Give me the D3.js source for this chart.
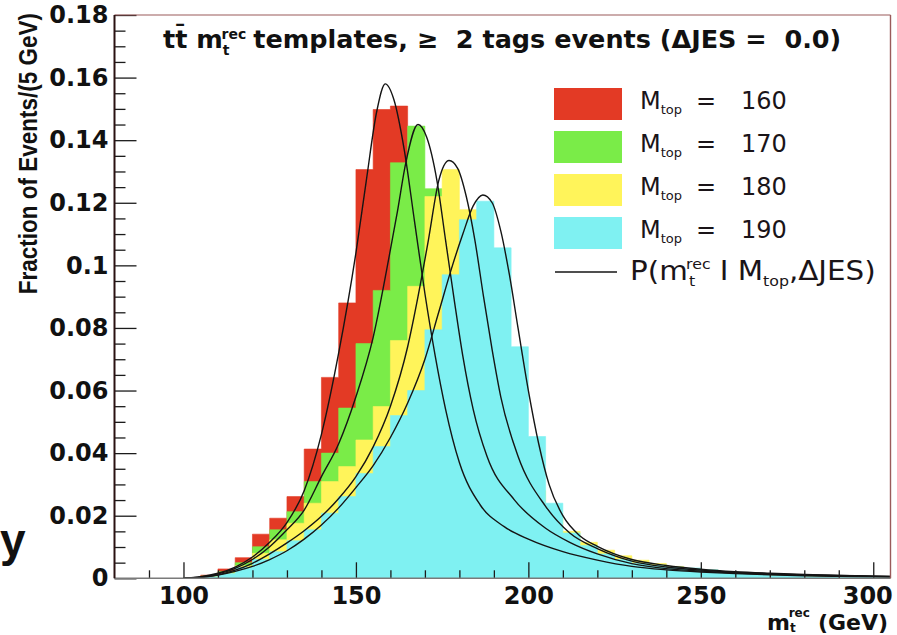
<!DOCTYPE html>
<html>
<head>
<meta charset="utf-8">
<script src="https://cdn.jsdelivr.net/npm/d3@7"></script>
<style>
  html, body { margin: 0; padding: 0; background: #ffffff; }
  svg { display: block; }
</style>
</head>
<body>
<svg id="chart" width="897" height="635"></svg>
<script>
// ---- data -------------------------------------------------------------
// lower edges of the 5 GeV reconstructed-mass bins (GeV)
const binLow = [100, 105, 110, 115, 120, 125, 130, 135, 140, 145,
                150, 155, 160, 165, 170, 175, 180, 185, 190, 195,
                200, 205, 210, 215, 220, 225, 230, 235, 240, 245,
                250, 255, 260, 265, 270, 275, 280, 285, 290, 295, 300];
const binWidth = 5;

// template histograms: fraction of events per bin
const hist160 = [0.0002, 0.0010, 0.0030, 0.0066, 0.0141, 0.0192, 0.0261, 0.0413, 0.0642, 0.0880,
                 0.1306, 0.1498, 0.1509, 0.1180, 0.0820, 0.0520, 0.0330, 0.0240, 0.0180, 0.0140,
                 0.0115, 0.0095, 0.0078, 0.0065, 0.0054, 0.0045, 0.0038, 0.0031, 0.0026, 0.0022,
                 0.0018, 0.0015, 0.0013, 0.0011, 0.0009, 0.0008, 0.0007, 0.0006, 0.0005, 0.0004, 0.0004];
const hist170 = [0.0001, 0.0007, 0.0022, 0.0050, 0.0101, 0.0155, 0.0213, 0.0309, 0.0400, 0.0544,
                 0.0750, 0.0920, 0.1328, 0.1445, 0.1245, 0.0980, 0.0640, 0.0410, 0.0290, 0.0215,
                 0.0170, 0.0140, 0.0110, 0.0090, 0.0072, 0.0058, 0.0047, 0.0038, 0.0031, 0.0026,
                 0.0021, 0.0018, 0.0015, 0.0012, 0.0010, 0.0009, 0.0007, 0.0006, 0.0005, 0.0005, 0.0004];
const hist180 = [0.0001, 0.0005, 0.0018, 0.0040, 0.0080, 0.0123, 0.0176, 0.0240, 0.0309, 0.0357,
                 0.0442, 0.0549, 0.0760, 0.0933, 0.1220, 0.1306, 0.1178, 0.0950, 0.0640, 0.0420,
                 0.0280, 0.0200, 0.0150, 0.0115, 0.0090, 0.0072, 0.0058, 0.0047, 0.0038, 0.0031,
                 0.0026, 0.0021, 0.0017, 0.0014, 0.0012, 0.0010, 0.0008, 0.0007, 0.0006, 0.0005, 0.0005];
const hist190 = [0.0001, 0.0005, 0.0015, 0.0035, 0.0060, 0.0085, 0.0120, 0.0155, 0.0208, 0.0261,
                 0.0335, 0.0421, 0.0520, 0.0600, 0.0794, 0.0970, 0.1146, 0.1205, 0.1056, 0.0740,
                 0.0453, 0.0240, 0.0145, 0.0105, 0.0078, 0.0060, 0.0048, 0.0042, 0.0036, 0.0033,
                 0.0027, 0.0018, 0.0014, 0.0011, 0.0009, 0.0008, 0.0006, 0.0005, 0.0005, 0.0004, 0.0003];

// fitted probability densities P(m | Mtop, dJES): [m (GeV), value]
const fit160 = [[100, 0.0000], [105, 0.0005], [110, 0.0016], [115, 0.0036], [120, 0.0068],
                [125, 0.0115], [130, 0.0178], [135, 0.0280], [140, 0.0460], [145, 0.0720],
                [150, 0.1040], [153, 0.1270], [156, 0.1490], [158.5, 0.1580], [161, 0.1530],
                [164, 0.1370], [167, 0.1140], [170, 0.0910], [173, 0.0710], [176, 0.0540],
                [180, 0.0370], [186, 0.0235], [193, 0.0165], [200, 0.0125], [210, 0.0085],
                [220, 0.0058], [230, 0.0038], [240, 0.0027], [250, 0.0020], [260, 0.0015],
                [270, 0.0011], [280, 0.0008], [290, 0.0006], [300, 0.0005], [305, 0.0004]];
const fit170 = [[100, 0.0000], [105, 0.0004], [110, 0.0014], [115, 0.0032], [120, 0.0060],
                [125, 0.0101], [130, 0.0155], [135, 0.0218], [140, 0.0325], [145, 0.0430],
                [150, 0.0580], [155, 0.0770], [160, 0.1050], [162, 0.1170], [164.5, 0.1330],
                [168, 0.1450], [170.5, 0.1410], [173.5, 0.1270], [176, 0.1080], [178.5, 0.0890],
                [181, 0.0710], [184, 0.0540], [188, 0.0390], [196, 0.0250], [205, 0.0160],
                [212, 0.0115], [220, 0.0078], [230, 0.0047], [240, 0.0031], [250, 0.0023],
                [260, 0.0017], [270, 0.0013], [280, 0.0010], [290, 0.0008], [300, 0.0006], [305, 0.0005]];
const fit180 = [[100, 0.0000], [105, 0.0003], [110, 0.0011], [115, 0.0026], [120, 0.0048],
                [125, 0.0078], [130, 0.0113], [135, 0.0152], [140, 0.0198], [145, 0.0255],
                [150, 0.0325], [155, 0.0420], [160, 0.0550], [165, 0.0740], [168, 0.0900],
                [171, 0.1080], [174, 0.1270], [177, 0.1335], [179.5, 0.1310], [182, 0.1220],
                [184.5, 0.1080], [187, 0.0900], [189.5, 0.0730], [192, 0.0580], [197, 0.0390],
                [205, 0.0230], [212, 0.0145], [220, 0.0095], [230, 0.0055], [240, 0.0036],
                [250, 0.0026], [260, 0.0019], [270, 0.0015], [280, 0.0011], [290, 0.0009],
                [300, 0.0007], [305, 0.0006]];
const fit190 = [[100, 0.0000], [105, 0.0003], [110, 0.0010], [115, 0.0022], [120, 0.0038],
                [125, 0.0060], [130, 0.0088], [135, 0.0125], [140, 0.0170], [145, 0.0225],
                [150, 0.0290], [155, 0.0360], [160, 0.0450], [165, 0.0560], [170, 0.0700],
                [174, 0.0850], [178, 0.1000], [181, 0.1100], [184, 0.1190], [186.8, 0.1225],
                [189.5, 0.1200], [192, 0.1110], [194.5, 0.0970], [197, 0.0800], [200, 0.0600],
                [203, 0.0430], [206, 0.0300], [210, 0.0200], [215, 0.0135], [220, 0.0102],
                [230, 0.0060], [240, 0.0041], [250, 0.0029], [260, 0.0021], [270, 0.0016],
                [280, 0.0012], [290, 0.0009], [300, 0.0007], [305, 0.0006]];

const massLabels = ["160", "170", "180", "190"];
const fillColors = ["#e33a25", "#7aec48", "#fff45a", "#7ff1f2"];

const xMajorTicks = [100, 150, 200, 250, 300];
const xTickLabels = ["100", "150", "200", "250", "300"];
const yMajorTicks = [0, 0.02, 0.04, 0.06, 0.08, 0.10, 0.12, 0.14, 0.16, 0.18];
const yTickLabels = ["0", "0.02", "0.04", "0.06", "0.08", "0.1", "0.12", "0.14", "0.16", "0.18"];

// ---- layout -----------------------------------------------------------
const frame = { left: 114.5, right: 890.5, top: 15, bottom: 578.3 };
const svg = d3.select("#chart");

const x = d3.scaleLinear().domain([80, 305]).range([frame.left, frame.right]);
const y = d3.scaleLinear().domain([0, 0.18]).range([frame.bottom, frame.top]);

svg.append("defs").append("clipPath").attr("id", "plotClip")
  .append("rect")
  .attr("x", frame.left).attr("y", frame.top)
  .attr("width", frame.right - frame.left).attr("height", frame.bottom - frame.top);

const plotArea = svg.append("g").attr("clip-path", "url(#plotClip)");

// ---- template histograms (drawn 160 first, 190 last on top) ------------
const histograms = [hist160, hist170, hist180, hist190];
const stepArea = d3.area()
  .x(d => x(d.m))
  .y0(y(0))
  .y1(d => y(d.v))
  .curve(d3.curveStepAfter);

histograms.forEach((vals, k) => {
  const pts = binLow.map((m, i) => ({ m: m, v: vals[i] }));
  pts.push({ m: binLow[binLow.length - 1] + binWidth, v: vals[vals.length - 1] });
  plotArea.append("path")
    .datum(pts)
    .attr("d", stepArea)
    .attr("fill", fillColors[k])
    .attr("stroke", fillColors[k])
    .attr("stroke-width", 0.6);
});

// ---- fitted curves -----------------------------------------------------
const fitLine = d3.line()
  .x(d => x(d[0]))
  .y(d => y(d[1]))
  .curve(d3.curveMonotoneX);

[fit160, fit170, fit180, fit190].forEach(f => {
  plotArea.append("path")
    .datum(f)
    .attr("d", fitLine)
    .attr("fill", "none")
    .attr("stroke", "#151515")
    .attr("stroke-width", 1.4);
});

// ---- axes --------------------------------------------------------------
const wideFont = "'DejaVu Sans', Verdana, sans-serif";
const narrowFont = "'Liberation Sans', Arial, Helvetica, sans-serif";

const yMinor = d3.range(0, 0.1801, 0.005).filter(v => !yMajorTicks.some(t => Math.abs(t - v) < 1e-6));
const xMinor = d3.range(90, 305, 10).filter(v => !xMajorTicks.includes(v));

const gyMinor = svg.append("g").attr("transform", `translate(${frame.left},0)`)
  .call(d3.axisLeft(y).tickValues(yMinor).tickSize(-11).tickFormat(""));
gyMinor.select(".domain").remove();

const gy = svg.append("g").attr("transform", `translate(${frame.left},0)`)
  .call(d3.axisLeft(y).tickValues(yMajorTicks).tickSize(-22).tickSizeOuter(0)
        .tickPadding(6).tickFormat((d, i) => yTickLabels[i]));
gy.select(".domain").remove();

const gxMinor = svg.append("g").attr("transform", `translate(0,${frame.bottom})`)
  .call(d3.axisBottom(x).tickValues(xMinor).tickSize(-8).tickFormat(""));
gxMinor.select(".domain").remove();

const gx = svg.append("g").attr("transform", `translate(0,${frame.bottom})`)
  .call(d3.axisBottom(x).tickValues(xMajorTicks).tickSize(-16).tickSizeOuter(0)
        .tickPadding(8.5).tickFormat((d, i) => xTickLabels[i]));
gx.select(".domain").remove();
// keep the last label inside the canvas
gx.selectAll(".tick text").filter(d => d === 300).attr("dx", -6);

[gy, gyMinor, gx, gxMinor].forEach(g => {
  g.selectAll(".tick line").attr("stroke", "#1b1b1b").attr("stroke-width", 1.3);
  g.selectAll("text")
    .attr("font-family", wideFont)
    .attr("font-weight", "bold")
    .attr("font-size", 24)
    .attr("fill", "#111");
});

// frame: dark left axis, grey bottom axis, thin red-brown top/right borders
svg.append("line").attr("x1", frame.left).attr("x2", frame.right)
  .attr("y1", frame.bottom).attr("y2", frame.bottom)
  .attr("stroke", "#7a7a7a").attr("stroke-width", 1.6);
svg.append("line").attr("x1", frame.left).attr("x2", frame.right)
  .attr("y1", frame.top).attr("y2", frame.top)
  .attr("stroke", "#9a5a5a").attr("stroke-width", 1.2);
svg.append("line").attr("x1", frame.right).attr("x2", frame.right)
  .attr("y1", frame.top).attr("y2", frame.bottom)
  .attr("stroke", "#9a5a5a").attr("stroke-width", 1.4);
svg.append("line").attr("x1", frame.left).attr("x2", frame.left)
  .attr("y1", frame.top).attr("y2", frame.bottom)
  .attr("stroke", "#2a1212").attr("stroke-width", 2);

// ---- title ------------------------------------------------------------
const title = svg.append("text")
  .attr("x", 163).attr("y", 48)
  .attr("font-family", wideFont).attr("font-weight", "bold")
  .attr("font-size", 25.5).attr("fill", "#111")
  .style("white-space", "pre");
title.append("tspan").text("tt\u0304 m");
title.append("tspan").attr("font-size", 14).attr("dy", 7).text("t");
title.append("tspan").attr("font-size", 14).attr("dx", -8).attr("dy", -16).text("rec");
title.append("tspan").attr("dy", 9).attr("dx", 7).text("templates, \u2265  2 tags events (\u0394JES =  0.0)");

// ---- axis titles -------------------------------------------------------
svg.append("text")
  .attr("transform", "translate(37,13) scale(1.15,1) rotate(-90)")
  .attr("text-anchor", "end")
  .attr("font-family", narrowFont).attr("font-weight", "bold")
  .attr("font-size", 22.5).attr("fill", "#111")
  .text("Fraction of Events/(5 GeV)");

const xTitle = svg.append("text")
  .attr("x", 888).attr("y", 630)
  .attr("text-anchor", "end")
  .attr("font-family", wideFont).attr("font-weight", "bold")
  .attr("font-size", 22).attr("fill", "#111");
xTitle.append("tspan").text("m");
xTitle.append("tspan").attr("font-size", 12).attr("dy", 1.5).text("t");
xTitle.append("tspan").attr("font-size", 12).attr("dx", -7).attr("dy", -14.5).text("rec");
xTitle.append("tspan").attr("dy", 13).attr("dx", 8).text("(GeV)");

// ---- legend ------------------------------------------------------------
const legend = svg.append("g");
massLabels.forEach((lab, i) => {
  const cy = 104 + i * 43;
  legend.append("rect")
    .attr("x", 554).attr("y", cy - 16).attr("width", 68).attr("height", 32)
    .attr("fill", fillColors[i]);
  const t = legend.append("text")
    .attr("x", 640).attr("y", cy + 5)
    .attr("font-family", wideFont).attr("font-size", 24).attr("fill", "#1a1418");
  t.append("tspan").text("M");
  t.append("tspan").attr("font-size", 13).attr("dy", 5).text("top");
  t.append("tspan").attr("x", 696).attr("dy", -5).text("=");
  t.append("tspan").attr("x", 741).text(lab);
});
legend.append("line")
  .attr("x1", 555).attr("x2", 617).attr("y1", 272).attr("y2", 272)
  .attr("stroke", "#151515").attr("stroke-width", 1.4);
const pl = legend.append("text")
  .attr("transform", "translate(630,280) scale(1.13,1)")
  .attr("font-family", wideFont).attr("font-size", 26).attr("fill", "#1a1418");
pl.append("tspan").text("P(m");
pl.append("tspan").attr("font-size", 14).attr("dx", 1).attr("dy", 6).text("t");
pl.append("tspan").attr("font-size", 14).attr("dx", -8).attr("dy", -17).text("rec");
pl.append("tspan").attr("dy", 11).attr("dx", 8).text("I M");
pl.append("tspan").attr("font-size", 14).attr("dy", 6).text("top");
pl.append("tspan").attr("dy", -6).text(",\u0394JES)");

// stray glyph at the left edge of the slide
svg.append("text")
  .attr("x", 0).attr("y", 556)
  .attr("font-family", narrowFont).attr("font-weight", "bold")
  .attr("font-size", 46).attr("fill", "#111")
  .text("y");
</script>
</body>
</html>
